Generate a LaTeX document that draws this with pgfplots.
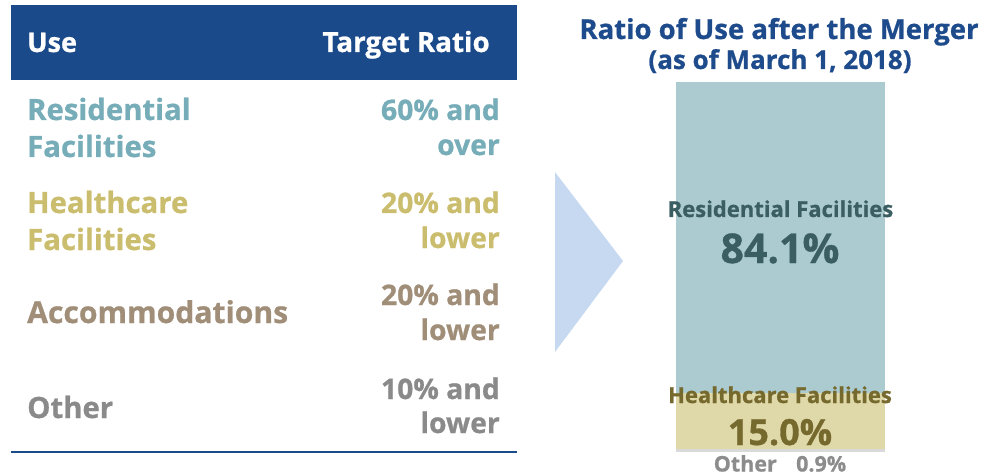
\documentclass[border=0pt]{standalone}
\usepackage{pgfplots}
\pgfplotsset{compat=1.18}
\usepackage{fontspec}
\setmainfont{Open Sans}[BoldFeatures={FakeBold=0.8}]
\definecolor{hdrblue}{HTML}{1B4A8A}
\definecolor{ttlblue}{HTML}{1E4B8B}
\definecolor{restxt}{HTML}{76ADB8}
\definecolor{hctxt}{HTML}{CBBD6E}
\definecolor{acctxt}{HTML}{A08E78}
\definecolor{othtxt}{HTML}{8A8A8A}
\definecolor{resbar}{HTML}{ABCBD0}
\definecolor{hcbar}{HTML}{DFD8A8}
\definecolor{othbar}{HTML}{D9D9D9}
\definecolor{reslab}{HTML}{3B5E63}
\definecolor{hclab}{HTML}{76692E}
\definecolor{othlab}{HTML}{8C8C8C}
\definecolor{tri}{HTML}{C6D9F1}
\newcommand{\fs}[1]{\fontsize{#1}{#1}\selectfont\bfseries}
\begin{document}
\begin{tikzpicture}[x=1pt,y=-1pt]
\useasboundingbox (0,0) rectangle (986,476);
% table
\fill[hdrblue] (11,5) rectangle (517,80);
\node[anchor=base west,inner sep=0,text=white] at (27,52) {\fs{27}Use};
\node[anchor=base east,inner sep=0,text=white] at (490,52) {\fs{27.8}Target Ratio};
\draw[hdrblue,line width=1.3pt] (11,452) -- (517,452);
\begin{scope}[every node/.style={inner sep=0}]
\node[anchor=base west,text=restxt] at (27,120) {\fs{29.3}Residential};
\node[anchor=base west,text=restxt] at (27,157) {\fs{29.3}Facilities};
\node[anchor=base east,text=restxt] at (500,120) {\fs{28.3}60\% and};
\node[anchor=base east,text=restxt] at (500,155) {\fs{28.3}over};
\node[anchor=base west,text=hctxt] at (27,213) {\fs{29.3}Healthcare};
\node[anchor=base west,text=hctxt] at (27,250) {\fs{29.3}Facilities};
\node[anchor=base east,text=hctxt] at (500,213) {\fs{28.3}20\% and};
\node[anchor=base east,text=hctxt] at (500,248) {\fs{28.3}lower};
\node[anchor=base west,text=acctxt] at (27,323) {\fs{30.1}Accommodations};
\node[anchor=base east,text=acctxt] at (500,305) {\fs{28.3}20\% and};
\node[anchor=base east,text=acctxt] at (500,340) {\fs{28.3}lower};
\node[anchor=base west,text=othtxt] at (27,418) {\fs{29.3}Other};
\node[anchor=base east,text=othtxt] at (500,399) {\fs{28.3}10\% and};
\node[anchor=base east,text=othtxt] at (500,433) {\fs{28.3}lower};
\end{scope}
% arrow
\fill[tri] (555,172) -- (623,261) -- (555,352) -- cycle;
% bar chart
\begin{axis}[at={(676pt,-452pt)},anchor=south west,
  width=209pt,height=370pt,scale only axis,
  xmin=0,xmax=1,ymin=0,ymax=100,
  hide axis,clip=false,
  ybar stacked,bar width=209pt,
  every axis plot/.append style={draw=none}]
\addplot[fill=othbar] coordinates {(0.5,0.9)};
\addplot[fill=hcbar] coordinates {(0.5,15.0)};
\addplot[fill=resbar] coordinates {(0.5,84.1)};
\end{axis}
\begin{scope}[every node/.style={inner sep=0,anchor=base}]
\node[text=ttlblue] at (779,39) {\fs{27.5}Ratio of Use after the Merger};
\node[text=ttlblue] at (780,69) {\fs{26}(as of March 1, 2018)};
\node[text=reslab] at (780.5,217) {\fs{22}Residential Facilities};
\node[text=reslab] at (780,263) {\fs{41}84.1\%};
\node[text=hclab] at (780,403) {\fs{22}Healthcare Facilities};
\node[text=hclab] at (780,445) {\fs{36}15.0\%};
\node[text=othlab] at (780,471.5) {\fs{21.5}Other\hspace{0.9em}0.9\%};
\end{scope}
\end{tikzpicture}
\end{document}
